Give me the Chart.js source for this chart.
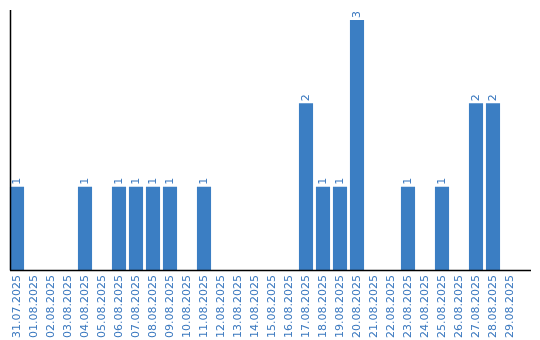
<!DOCTYPE html>
<html>
<head>
<meta charset="utf-8">
<script src="https://cdn.jsdelivr.net/npm/chart.js@4/dist/chart.umd.min.js"></script>
<style>
html,body{margin:0;padding:0;background:#fff;}
#wrap{width:540px;height:340px;position:relative;}
</style>
</head>
<body>
<div id="wrap"><canvas id="c" width="540" height="340"></canvas></div>
<script>
const categories = ["31.07.2025","01.08.2025","02.08.2025","03.08.2025","04.08.2025","05.08.2025","06.08.2025","07.08.2025","08.08.2025","09.08.2025","10.08.2025","11.08.2025","12.08.2025","13.08.2025","14.08.2025","15.08.2025","16.08.2025","17.08.2025","18.08.2025","19.08.2025","20.08.2025","21.08.2025","22.08.2025","23.08.2025","24.08.2025","25.08.2025","26.08.2025","27.08.2025","28.08.2025","29.08.2025"];
const counts = [1,0,0,0,1,0,1,1,1,1,0,1,0,0,0,0,0,2,1,1,3,0,0,1,0,1,0,2,2,0];

const BLUE = '#3b7ec3';
const TEXT = '#3a78bf';
const FONT = '"DejaVu Sans", Verdana, sans-serif';

const decor = {
  id: 'decor',
  afterDatasetsDraw(chart) {
    const ctx = chart.ctx;
    const meta = chart.getDatasetMeta(0);
    ctx.save();
    ctx.fillStyle = TEXT;
    ctx.font = '11px ' + FONT;
    ctx.textAlign = 'left';
    ctx.textBaseline = 'middle';
    meta.data.forEach((bar, i) => {
      const v = counts[i];
      if (!v) return;
      ctx.save();
      ctx.translate(bar.x, bar.y - 2);
      ctx.rotate(-Math.PI / 2);
      ctx.fillText(String(v), 0, 0);
      ctx.restore();
    });
    const a = chart.chartArea;
    ctx.strokeStyle = '#000';
    ctx.lineWidth = 1.5;
    ctx.beginPath();
    ctx.moveTo(10.5, 10);
    ctx.lineTo(10.5, a.bottom + 0.5);
    ctx.moveTo(10, a.bottom + 0.5);
    ctx.lineTo(531, a.bottom + 0.5);
    ctx.stroke();
    ctx.restore();
  }
};

new Chart(document.getElementById('c'), {
  type: 'bar',
  data: {
    labels: categories,
    datasets: [{
      data: counts,
      backgroundColor: BLUE,
      borderWidth: 0,
      barPercentage: 0.83,
      categoryPercentage: 1
    }]
  },
  options: {
    responsive: false,
    animation: false,
    layout: { padding: { left: 8.5, right: 21.5, top: 10, bottom: 0 } },
    plugins: { legend: { display: false }, tooltip: { enabled: false } },
    scales: {
      x: {
        grid: { display: false, drawTicks: false },
        border: { display: false },
        ticks: {
          autoSkip: false,
          minRotation: 90,
          maxRotation: 90,
          padding: 5,
          color: TEXT,
          font: { family: FONT, size: 11 }
        },
        afterFit(scale) { scale.height = 70; }
      },
      y: {
        display: false,
        min: 0,
        max: 3.12
      }
    }
  },
  plugins: [decor]
});
</script>
</body>
</html>
